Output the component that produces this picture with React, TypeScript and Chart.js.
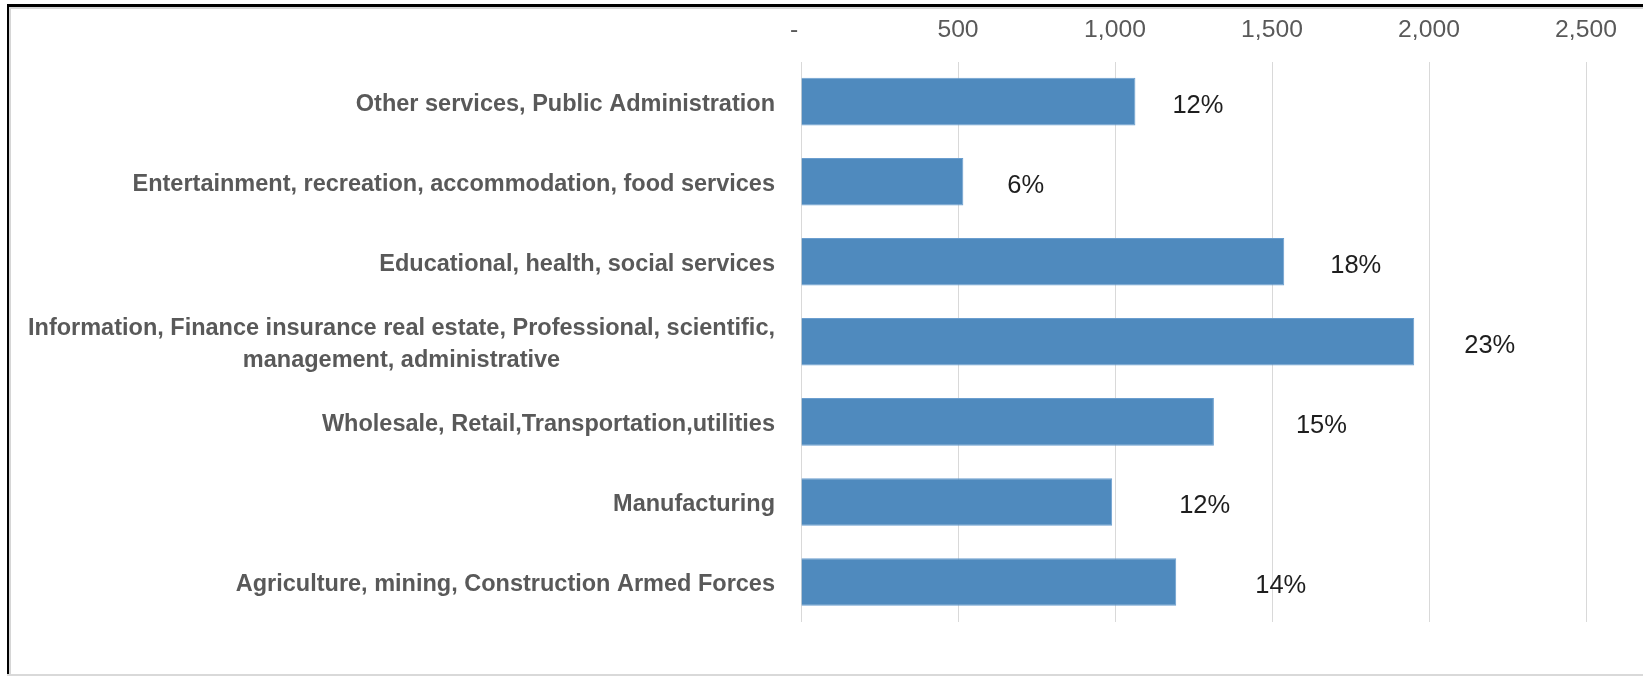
import { useEffect, useRef } from 'react';
import { Chart, registerables } from 'chart.js';

Chart.register(...registerables);

// ---- data ----
const CATEGORIES: (string | string[])[] = [
  'Other services, Public Administration',
  'Entertainment, recreation, accommodation, food services',
  'Educational, health, social services',
  ['Information, Finance insurance real estate, Professional, scientific,', 'management, administrative'],
  'Wholesale, Retail,Transportation,utilities',
  'Manufacturing',
  'Agriculture, mining, Construction Armed Forces',
];
const VALUES = [1065, 517, 1539, 1953, 1315, 991, 1195];
const SHARE_LABELS = ['12%', '6%', '18%', '23%', '15%', '12%', '14%'];
const X_MIN = 0;
const X_MAX = 2500;
const X_STEP = 500;
const TICK_LABELS = ['-', '500', '1,000', '1,500', '2,000', '2,500'];

// ---- style ----
const FONT = "'Liberation Sans', Arial, sans-serif";
const LABEL_GAPS = [37, 44, 46, 50, 82, 67, 79];
const CAT_LABEL_GAP = 26;
const CAT_LINE_HEIGHT = 32;
const TICK_FONT_SIZE = 24.7;
const TICK_PADDING = 17;
const X_AXIS_HEIGHT = 49.6;

const labelsPlugin = {
  id: 'customLabels',
  afterDraw(chart: any) {
    const ctx = chart.ctx;
    const yScale = chart.scales.y;
    const area = chart.chartArea;
    ctx.save();
    // category labels (right-aligned block, wrapped lines centred)
    ctx.font = `bold 23.5px ${FONT}`;
    ctx.fillStyle = '#595959';
    ctx.textAlign = 'center';
    ctx.textBaseline = 'middle';
    const right = area.left - CAT_LABEL_GAP;
    (chart.data.labels as (string | string[])[]).forEach((lab, i) => {
      const lines = Array.isArray(lab) ? lab : [lab];
      const maxW = Math.max(...lines.map((l) => ctx.measureText(l).width));
      const cy = yScale.getPixelForTick(i);
      lines.forEach((l, k) => {
        const y = cy + (k - (lines.length - 1) / 2) * CAT_LINE_HEIGHT;
        ctx.fillText(l, right - maxW / 2, y + 3);
      });
    });
    // share labels
    ctx.font = `25.5px ${FONT}`;
    ctx.fillStyle = '#1e1e1e';
    ctx.textAlign = 'left';
    const meta = chart.getDatasetMeta(0);
    meta.data.forEach((el: any, i: number) => {
      ctx.fillText(SHARE_LABELS[i], el.x + LABEL_GAPS[i], el.y + 4);
    });
    ctx.restore();
  },
};

export default function App() {
  const ref = useRef<HTMLCanvasElement | null>(null);
  useEffect(() => {
    if (!ref.current) return;
    const chart = new Chart(ref.current, {
      type: 'bar',
      data: {
        labels: CATEGORIES,
        datasets: [
          {
            data: VALUES,
            backgroundColor: '#4f8abe',
            borderColor: '#6a9ecf',
            borderWidth: 1,
            barPercentage: 0.594,
            categoryPercentage: 1,
          },
        ],
      },
      options: {
        indexAxis: 'y',
        responsive: false,
        animation: false,
        devicePixelRatio: 1,
        layout: { padding: { top: 12, right: 57, bottom: 54, left: 0 } },
        plugins: { legend: { display: false }, tooltip: { enabled: false } },
        scales: {
          x: {
            position: 'top',
            min: X_MIN,
            max: X_MAX,
            ticks: {
              stepSize: X_STEP,
              autoSkip: false,
              maxRotation: 0,
              padding: TICK_PADDING,
              color: '#595959',
              font: { family: FONT, size: TICK_FONT_SIZE },
              callback: (v: any) => {
                const t = TICK_LABELS[Math.round((Number(v) - X_MIN) / X_STEP)] ?? '';
                return t === '-' ? '-  ' : t;
              },
            },
            grid: { color: '#d9d9d9', lineWidth: 1, drawTicks: false },
            border: { display: false },
            afterFit: (s: any) => {
              s.height = X_AXIS_HEIGHT;
            },
          },
          y: {
            ticks: { display: false },
            grid: { display: false },
            border: { display: false },
            afterFit: (s: any) => {
              s.width = 801;
            },
          },
        },
      },
      plugins: [labelsPlugin],
    } as any);
    return () => chart.destroy();
  }, []);

  return (
    <div style={{ position: 'absolute', left: 0, top: 0, width: 1643, height: 676, background: '#fff', overflow: 'hidden' }}>
      <canvas ref={ref} width={1643} height={676} style={{ display: 'block' }} />
      <div style={{ position: 'absolute', left: 7, top: 4, width: 1636, height: 3, background: '#000' }} />
      <div style={{ position: 'absolute', left: 9, top: 7, width: 1634, height: 2, background: '#d6d6d6' }} />
      <div style={{ position: 'absolute', left: 7, top: 4, width: 2, height: 672, background: '#000' }} />
      <div style={{ position: 'absolute', left: 9, top: 7, width: 2, height: 669, background: '#d6d6d6' }} />
      <div style={{ position: 'absolute', left: 7, top: 674, width: 1636, height: 2, background: '#d9d9d9' }} />
    </div>
  );
}
